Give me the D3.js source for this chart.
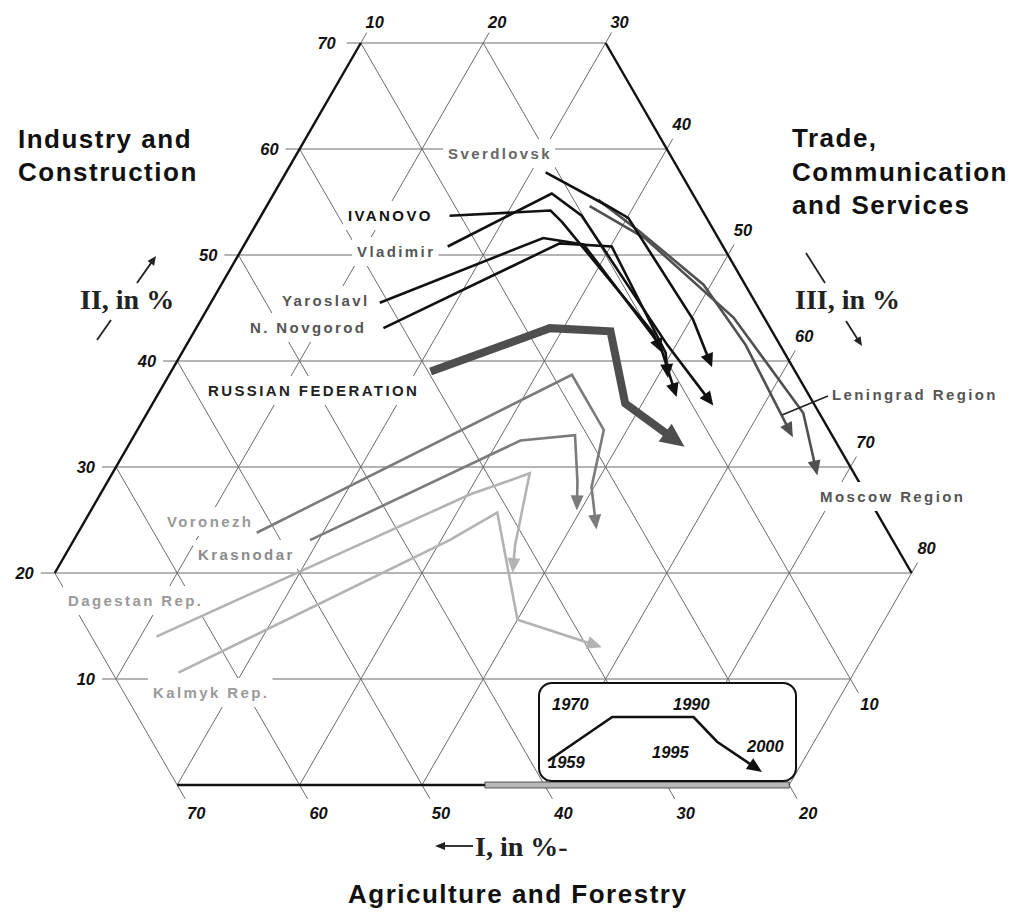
<!DOCTYPE html>
<html>
<head>
<meta charset="utf-8">
<script src="https://cdn.jsdelivr.net/npm/d3@7"></script>
<style>
  body { margin: 0; background: #fff; }
  svg { display: block; }
</style>
</head>
<body>
<script>
// years of the five points on every path
const years = [1959, 1970, 1990, 1995, 2000];

// each point: [I agriculture, II industry, III services] in %
const sverdlovsk = [[11.0,57.8,31.2],[7.5,54.6,37.9],[6.4,53.5,40.1],[5.9,43.9,50.2],[6.6,39.4,54.0]];
const ivanovo    = [[20.9,53.7,25.4],[12.4,54.2,33.4],[12.0,53.1,34.9],[9.8,42.7,47.5],[10.0,40.8,49.2]];
const vladimir   = [[22.5,50.8,26.7],[11.5,55.8,32.7],[10.1,53.7,36.2],[9.2,41.5,49.3],[8.3,35.8,55.9]];
const yaroslavl  = [[30.7,45.5,23.8],[14.3,51.6,34.1],[11.3,51.0,37.7],[9.8,41.5,48.7],[10.9,36.6,52.5]];
const novgorod   = [[31.6,43.1,25.3],[13.2,51.1,35.7],[9.1,50.8,40.1],[9.7,40.8,49.5],[10.7,38.4,50.9]];
const russia     = [[29.8,39.0,31.2],[18.0,43.1,38.9],[13.2,42.8,44.0],[15.4,36.0,48.6],[12.6,31.9,55.5]];
const leningrad  = [[8.0,55.2,36.8],[6.1,52.2,41.7],[3.4,47.2,49.4],[2.8,41.5,55.7],[3.3,32.8,63.9]];
const moscow     = [[9.0,54.6,36.4],[6.0,51.6,42.4],[2.5,44.1,53.4],[1.3,35.1,63.6],[3.1,29.2,67.7]];
const voronezh   = [[51.6,23.8,24.6],[18.4,38.7,42.9],[18.4,33.5,48.1],[22.1,28.1,49.8],[23.7,24.1,52.2]];
const krasnodar  = [[47.6,23.1,29.3],[25.7,32.5,41.8],[21.0,33.0,46.0],[23.0,28.6,48.4],[24.4,25.9,49.7]];
const dagestan   = [[64.7,14.0,21.3],[32.4,27.4,40.2],[26.5,29.4,44.1],[31.1,22.6,46.3],[32.6,20.0,47.4]];
const kalmyk     = [[64.6,10.6,24.8],[36.2,23.1,40.7],[31.0,25.7,43.3],[34.4,15.6,50.0],[28.8,13.0,58.2]];

// grid / tick values
const iTicks   = [0, 10, 20, 30, 40, 50, 60, 70];
const iiTicks  = [0, 10, 20, 30, 40, 50, 60, 70];
const iiiTicks = [10, 20, 30, 40, 50, 60, 70, 80];

// legend sample path (relative 0..1 inside inset)
const legendPath = [[0, 0.2], [0.3, 1], [0.68, 1], [0.79, 0.55], [1, 0]];

const W = 1014, H = 914;
const svg = d3.select("body").append("svg")
  .attr("width", W).attr("height", H)
  .style("font-family", "'Liberation Sans', Arial, sans-serif");

// ternary projection: x from (III - I), y from II
const x = d3.scaleLinear().domain([-100, 100]).range([422 - 612, 422 + 612]);
const y = d3.scaleLinear().domain([0, 70]).range([785, 43]);
const pt = d => [x(d[2] - d[0]), y(d[1])];

const gridG = svg.append("g");
function seg(a, b) {
  return gridG.append("line")
    .attr("x1", a[0]).attr("y1", a[1]).attr("x2", b[0]).attr("y2", b[1])
    .attr("stroke", "#6a6a6a").attr("stroke-width", 1);
}
const DR = [0.5, 0.866];   // down-right unit
const UR = [0.5, -0.866];  // up-right unit

const tickFont = g => g.attr("font-size", 16.5).attr("font-weight", "bold")
  .attr("font-style", "italic").attr("fill", "#111");

// II lines (horizontal)
iiTicks.forEach(v => {
  const a = Math.max(10, 30 - v), b = Math.min(80, 100 - v);
  const p1 = pt([100 - v - a, v, a]), p2 = pt([100 - v - b, v, b]);
  if (v > 0) seg(p1, p2);
  if (v >= 10) {
    seg([p1[0] - 14, p1[1]], p1);
    tickFont(svg.append("text")).attr("x", p1[0] - (v === 70 ? 25 : 21)).attr("y", p1[1] + 6)
      .attr("text-anchor", "end").text(v);
  }
});

// I lines (down-right)
iTicks.forEach(v => {
  const a = Math.max(0, 20 - v), b = Math.min(70, 90 - v);
  const lo = pt([v, a, 100 - v - a]), hi = pt([v, b, 100 - v - b]);
  if (v > 0) seg(hi, lo);
  if (v >= 10) {
    seg(lo, [lo[0] + DR[0] * 16, lo[1] + DR[1] * 16]);
    const bottom = a === 0;
    tickFont(svg.append("text")).attr("x", lo[0] + 19).attr("y", lo[1] + (bottom ? 34 : 31))
      .attr("text-anchor", "middle").text(v);
  }
});

// III lines (down-left)
iiiTicks.forEach(v => {
  const a = Math.max(0, 30 - v), b = Math.min(70, 100 - v);
  const lo = pt([100 - v - a, a, v]), hi = pt([100 - v - b, b, v]);
  if (v > 10) seg(hi, lo);
  seg(hi, [hi[0] + UR[0] * 12, hi[1] + UR[1] * 12]);
  const top = b === 70;
  tickFont(svg.append("text")).attr("x", hi[0] + (top ? 14 : 15)).attr("y", hi[1] + (top ? -15 : -19))
    .attr("text-anchor", "middle").text(v);
});

// thick boundary edges
const edgeG = svg.append("g").attr("stroke", "#111").attr("stroke-width", 2.4).attr("fill", "none");
[[[20, 70, 10], [70, 20, 10]], [[0, 70, 30], [0, 20, 80]], [[70, 0, 30], [20, 0, 80]]].forEach(e => {
  const a = pt(e[0]), b = pt(e[1]);
  edgeG.append("line").attr("x1", a[0]).attr("y1", a[1]).attr("x2", b[0]).attr("y2", b[1]);
});
// grey band under the inset along the bottom edge
svg.append("rect").attr("x", 485).attr("y", y(0) - 3).attr("width", x(60) - 485).attr("height", 6)
  .attr("fill", "#b8b8b8").attr("stroke", "#333").attr("stroke-width", 0.8);

// region labels with white knock-outs
const labels = [
  { t: "Sverdlovsk", x: 448, y: 159, c: "#666" },
  { t: "IVANOVO", x: 348, y: 221, c: "#111" },
  { t: "Vladimir", x: 357, y: 257, c: "#555" },
  { t: "Yaroslavl", x: 282, y: 306, c: "#555" },
  { t: "N. Novgorod", x: 250, y: 333, c: "#555" },
  { t: "RUSSIAN FEDERATION", x: 208, y: 396, c: "#222" },
  { t: "Voronezh", x: 167, y: 527, c: "#999" },
  { t: "Krasnodar", x: 198, y: 560, c: "#8a8a8a" },
  { t: "Dagestan Rep.", x: 68, y: 606, c: "#9a9a9a" },
  { t: "Kalmyk Rep.", x: 153, y: 698, c: "#9a9a9a" },
  { t: "Leningrad Region", x: 832, y: 400, c: "#555" },
  { t: "Moscow Region", x: 820, y: 502, c: "#555" }
];
const knock = svg.append("g"), labG = svg.append("g");
labels.forEach(l => {
  const t = labG.append("text").attr("x", l.x).attr("y", l.y)
    .attr("font-size", 15).attr("font-weight", "bold").attr("letter-spacing", 2.4)
    .attr("fill", l.c).text(l.t);
  const bb = t.node().getBBox();
  knock.append("rect").attr("x", bb.x - 5).attr("y", bb.y - 6)
    .attr("width", bb.width + 8).attr("height", bb.height + 12).attr("fill", "#fff");
});

// inset legend box
const inset = { x0: 539, y0: 683, x1: 796, y1: 781 };
svg.append("rect").attr("x", inset.x0).attr("y", inset.y0)
  .attr("width", inset.x1 - inset.x0).attr("height", inset.y1 - inset.y0)
  .attr("rx", 13).attr("fill", "#fff").attr("stroke", "#111").attr("stroke-width", 2);

// data paths
const series = [
  { d: dagestan, s: "light" }, { d: kalmyk, s: "light" },
  { d: voronezh, s: "grey" }, { d: krasnodar, s: "grey" },
  { d: leningrad, s: "dark" }, { d: moscow, s: "dark" },
  { d: russia, s: "rf" },
  { d: sverdlovsk, s: "black" }, { d: ivanovo, s: "black" }, { d: vladimir, s: "black" },
  { d: yaroslavl, s: "black" }, { d: novgorod, s: "black" }
];
const styles = {
  light: { c: "#b3b3b3", w: 2.6, al: 15, aw: 13 },
  grey:  { c: "#7b7b7b", w: 2.6, al: 15, aw: 13 },
  dark:  { c: "#505050", w: 2.6, al: 15, aw: 13 },
  rf:    { c: "#4e4e4e", w: 8,   al: 24, aw: 22 },
  black: { c: "#111",    w: 2.6, al: 14, aw: 13 }
};
const line = d3.line();
const dataG = svg.append("g");
function arrowPath(g, pts, st) {
  const n = pts.length, tip = pts[n - 1], prev = pts[n - 2];
  let dx = tip[0] - prev[0], dy = tip[1] - prev[1];
  const L = Math.hypot(dx, dy); dx /= L; dy /= L;
  const body = pts.slice(0, n - 1).concat([[tip[0] - dx * st.al * 0.8, tip[1] - dy * st.al * 0.8]]);
  g.append("path").attr("d", line(body)).attr("fill", "none")
    .attr("stroke", st.c).attr("stroke-width", st.w).attr("stroke-linejoin", "miter");
  const bx = tip[0] - dx * st.al, by = tip[1] - dy * st.al, px = -dy * st.aw / 2, py = dx * st.aw / 2;
  g.append("path").attr("d", `M${tip[0]},${tip[1]}L${bx + px},${by + py}L${bx - px},${by - py}Z`)
    .attr("fill", st.c);
}
series.forEach(s => arrowPath(dataG, s.d.map(pt), styles[s.s]));

// Leningrad leader line
svg.append("line").attr("x1", 782).attr("y1", 415).attr("x2", 828).attr("y2", 396)
  .attr("stroke", "#222").attr("stroke-width", 1.6);

// legend sample
const lx = d3.scaleLinear().domain([0, 1]).range([548, 762]);
const ly = d3.scaleLinear().domain([0, 1]).range([772, 717]);
arrowPath(svg.append("g"), legendPath.map(p => [lx(p[0]), ly(p[1])]), { c: "#111", w: 2.6, al: 15, aw: 13 });
const legYears = [
  { t: years[1], x: 552, y: 710 }, { t: years[2], x: 673, y: 710 },
  { t: years[0], x: 548, y: 768 }, { t: years[3], x: 652, y: 758 }, { t: years[4], x: 747, y: 752 }
];
legYears.forEach(l => tickFont(svg.append("text")).attr("x", l.x).attr("y", l.y).text(l.t));

// axis titles
const title = (t, xx, yy) => svg.append("text").attr("x", xx).attr("y", yy)
  .attr("font-size", 26).attr("font-weight", "bold").attr("letter-spacing", 1.5)
  .attr("fill", "#111").text(t);
title("Industry and", 18, 148);
title("Construction", 18, 181);
title("Trade,", 792, 147);
title("Communication", 792, 181);
title("and Services", 792, 214);
title("Agriculture and Forestry", 348, 903);

const serif = (t, xx, yy) => svg.append("text").attr("x", xx).attr("y", yy)
  .attr("font-family", "'Liberation Serif', 'Times New Roman', serif")
  .attr("font-size", 28).attr("font-weight", "bold").attr("fill", "#222").text(t);
serif("II, in %", 80, 309);
serif("III, in %", 795, 309);
serif("I, in %-", 475, 856);

const deco = svg.append("g");
const thin = (a, b) => deco.append("line").attr("x1", a[0]).attr("y1", a[1]).attr("x2", b[0]).attr("y2", b[1])
  .attr("stroke", "#222").attr("stroke-width", 1.8);
arrowPath(deco, [[137, 283], [156, 256]], { c: "#222", w: 1.8, al: 9, aw: 8 });
thin([97, 340], [111, 320]);
thin([806, 253], [825, 283]);
arrowPath(deco, [[846, 321], [862, 346]], { c: "#222", w: 1.8, al: 9, aw: 8 });
arrowPath(deco, [[473, 846], [435, 846]], { c: "#222", w: 1.8, al: 10, aw: 8 });
</script>
</body>
</html>
